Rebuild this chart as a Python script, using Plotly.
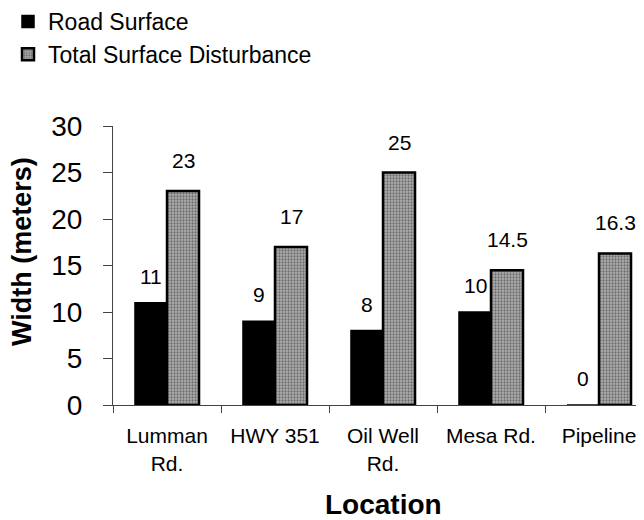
import plotly.graph_objects as go

categories = ["Lumman<br>Rd.", "HWY 351", "Oil Well<br>Rd.", "Mesa Rd.", "Pipeline"]
road_surface = [11, 9, 8, 10, 0]
total_disturbance = [23, 17, 25, 14.5, 16.3]
y_ticks = [0, 5, 10, 15, 20, 25, 30]

FONT = "Liberation Sans, Arial, sans-serif"
OFF = 8  # page body margin offset of the rendered figure
PAGE_W, PAGE_H = 644, 520
W, H = PAGE_W - OFF, PAGE_H - OFF
# target plot area in page pixels: x 113..644, y 126..405
ML, MR, MT, MB = 113 - OFF, 0, 126 - OFF, PAGE_H - 405
plot_w = W - ML - MR
plot_h = H - MT - MB
cat_px = 108.0  # pixels per category
x_range = [-0.5, -0.5 + plot_w / cat_px]

fig = go.Figure()
fig.add_trace(go.Bar(
    name="Road Surface", x=categories, y=road_surface,
    marker=dict(color="black", line=dict(color="black", width=1.5)),
))
fig.add_trace(go.Bar(
    name="Total Surface Disturbance", x=categories, y=total_disturbance,
    marker=dict(color="#a0a0a0", line=dict(color="black", width=2.5),
                pattern=dict(shape=".", fgcolor="#2a2a2a", bgcolor="#b0b0b0",
                             size=3, solidity=0.45)),
))

def px_to_paper_x(px):  # page px -> paper
    return (px - OFF - ML) / plot_w

def px_to_paper_y(py):  # page px -> paper
    return (PAGE_H - MB - py) / plot_h

annotations = []
offset_px = 16
for i, (r, t) in enumerate(zip(road_surface, total_disturbance)):
    for val, sh, ys in ((r, -offset_px, 13), (t, offset_px, 17)):
        annotations.append(dict(
            x=i, y=val, xref="x", yref="y", text=f"{val:g}", showarrow=False,
            xshift=sh, yshift=ys, yanchor="bottom",
            font=dict(family=FONT, size=21, color="black"),
        ))

annotations.append(dict(
    x=2, y=px_to_paper_y(504), xref="x", yref="paper", text="<b>Location</b>",
    showarrow=False, yanchor="middle",
    font=dict(family=FONT, size=28, color="black"),
))
annotations.append(dict(
    x=px_to_paper_x(22), y=px_to_paper_y(252), xref="paper", yref="paper",
    text="<b>Width (meters)</b>", showarrow=False, textangle=-90,
    xanchor="center", yanchor="middle",
    font=dict(family=FONT, size=27, color="black"),
))

fig.update_layout(
    width=W, height=H,
    margin=dict(l=ML, r=MR, t=MT, b=MB, pad=0, autoexpand=False),
    paper_bgcolor="white", plot_bgcolor="white",
    barmode="group", bargap=0.407, bargroupgap=0,
    font=dict(family=FONT, color="black"),
    showlegend=True,
    legend=dict(x=px_to_paper_x(8), y=px_to_paper_y(0), xanchor="left", yanchor="top",
                font=dict(family=FONT, size=23, color="black"),
                bgcolor="rgba(0,0,0,0)", tracegroupgap=0),
    annotations=annotations,
    xaxis=dict(
        range=x_range, showgrid=False, zeroline=False,
        showline=True, linecolor="#444444", linewidth=1,
        ticks="outside", tickson="boundaries", ticklen=7, tickcolor="#444444",
        tickfont=dict(family=FONT, size=21, color="black"),
        ticklabelstandoff=12,
    ),
    yaxis=dict(
        range=[0, 30], tickvals=y_ticks, showgrid=False, zeroline=False,
        showline=True, linecolor="#444444", linewidth=1,
        ticks="outside", ticklen=9, tickcolor="#444444",
        tickfont=dict(family=FONT, size=28, color="black"),
        ticklabelstandoff=15,
    ),
)

fig.write_html("out.html")
